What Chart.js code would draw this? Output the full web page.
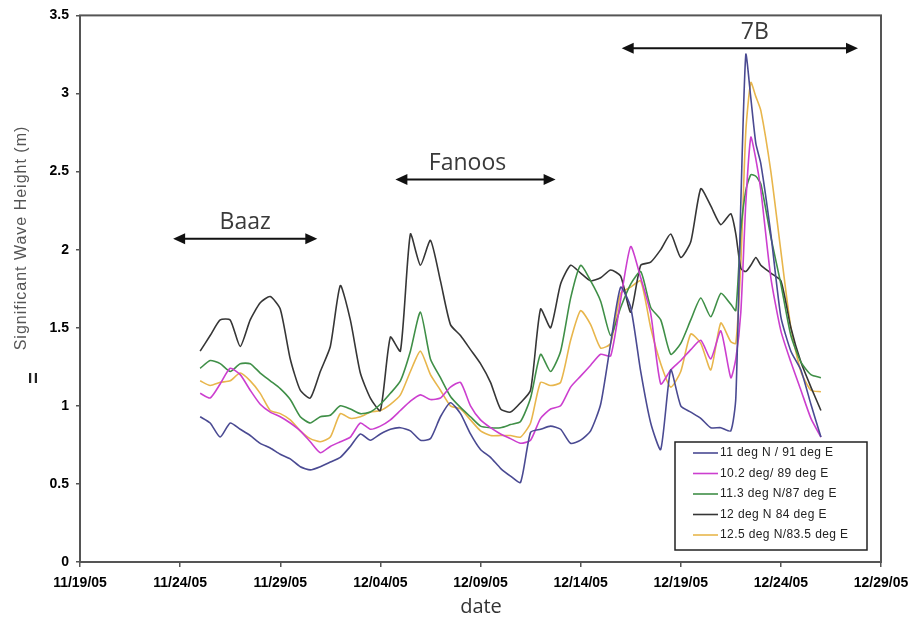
<!DOCTYPE html>
<html>
<head>
<meta charset="utf-8">
<script src="https://cdn.jsdelivr.net/npm/chart.js@4.4.0/dist/chart.umd.min.js"></script>
<style>
    body { margin: 0; background: #fff; }
    #wrap { width: 918px; height: 627px; }
</style>
</head>
<body>
<div id="wrap"><canvas id="waveChart" width="918" height="627"></canvas></div>
<script>
// days since 11/19/05
var dias = [6, 6.5, 7, 7.5, 8, 8.5, 9, 9.5, 10, 10.5, 11, 11.5, 12, 12.5, 13, 13.5, 14, 14.5, 15, 15.5,
    16, 16.5, 17, 17.5, 18, 18.5, 19, 19.5, 20, 20.5, 21, 21.5, 22, 22.5, 23, 23.5, 24, 24.5, 25, 25.5,
    26, 26.5, 27, 27.5, 28, 28.5, 29, 29.5, 30, 30.5, 31, 31.5, 32, 32.5, 32.75, 33, 33.25, 33.5, 33.75, 34,
    34.5, 35, 35.5, 36, 36.5, 37];

var serieAzul = [0.93, 0.89, 0.80, 0.89, 0.85, 0.81, 0.76, 0.73, 0.69, 0.66, 0.61, 0.59, 0.61, 0.64, 0.67, 0.74, 0.82, 0.78, 0.82, 0.85,
    0.86, 0.84, 0.78, 0.79, 0.93, 1.02, 0.95, 0.82, 0.72, 0.67, 0.60, 0.55, 0.51, 0.83, 0.85, 0.87, 0.85, 0.76, 0.78, 0.84,
    1.01, 1.40, 1.76, 1.63, 1.22, 0.89, 0.72, 1.23, 1.00, 0.96, 0.92, 0.86, 0.86, 0.84, 1.05, 2.30, 3.25, 2.97, 2.68, 2.55,
    2.10, 1.57, 1.35, 1.23, 1.01, 0.80];

var serieMagenta = [1.08, 1.05, 1.14, 1.24, 1.20, 1.10, 1.01, 0.96, 0.93, 0.89, 0.84, 0.77, 0.70, 0.74, 0.77, 0.80, 0.89, 0.85, 0.87, 0.91,
    0.97, 1.03, 1.07, 1.04, 1.05, 1.12, 1.15, 1.00, 0.91, 0.86, 0.82, 0.79, 0.76, 0.78, 0.92, 0.98, 1.00, 1.12, 1.19, 1.26,
    1.33, 1.32, 1.68, 2.02, 1.82, 1.59, 1.14, 1.23, 1.29, 1.36, 1.42, 1.30, 1.48, 1.18, 1.30, 1.60, 2.30, 2.72, 2.58, 2.38,
    1.82, 1.48, 1.28, 1.10, 0.92, 0.80];

var serieVerde = [1.24, 1.29, 1.27, 1.22, 1.27, 1.27, 1.21, 1.16, 1.11, 1.04, 0.93, 0.89, 0.93, 0.94, 1.00, 0.98, 0.95, 0.96, 1.01, 1.08,
    1.16, 1.35, 1.60, 1.30, 1.18, 1.06, 0.99, 0.93, 0.87, 0.86, 0.86, 0.88, 0.90, 1.05, 1.33, 1.22, 1.35, 1.69, 1.90, 1.80,
    1.67, 1.45, 1.63, 1.78, 1.86, 1.63, 1.55, 1.33, 1.40, 1.55, 1.69, 1.57, 1.72, 1.65, 1.61, 2.12, 2.38, 2.48, 2.47, 2.42,
    2.08, 1.78, 1.45, 1.28, 1.20, 1.18];

var serieNegra = [1.35, 1.45, 1.55, 1.55, 1.38, 1.55, 1.66, 1.70, 1.62, 1.30, 1.10, 1.05, 1.22, 1.38, 1.77, 1.55, 1.21, 1.05, 0.97, 1.44,
    1.35, 2.10, 1.90, 2.06, 1.80, 1.52, 1.45, 1.36, 1.27, 1.15, 0.98, 0.96, 1.02, 1.10, 1.62, 1.50, 1.78, 1.90, 1.85, 1.80,
    1.82, 1.87, 1.83, 1.60, 1.90, 1.92, 2.00, 2.10, 1.95, 2.05, 2.39, 2.28, 2.16, 2.23, 2.10, 1.88, 1.86, 1.90, 1.95, 1.90,
    1.85, 1.80, 1.50, 1.28, 1.12, 0.97];

var serieAmarilla = [1.16, 1.13, 1.15, 1.16, 1.21, 1.16, 1.08, 0.97, 0.95, 0.91, 0.84, 0.79, 0.77, 0.80, 0.95, 0.92, 0.93, 0.96, 0.97, 1.01,
    1.07, 1.22, 1.35, 1.20, 1.10, 1.00, 0.98, 0.91, 0.84, 0.81, 0.81, 0.81, 0.80, 0.89, 1.15, 1.13, 1.15, 1.42, 1.61, 1.52,
    1.37, 1.40, 1.72, 1.76, 1.80, 1.50, 1.27, 1.12, 1.22, 1.46, 1.40, 1.23, 1.53, 1.41, 1.40, 1.91, 2.76, 3.07, 2.98, 2.89,
    2.50, 1.99, 1.50, 1.22, 1.10, 1.09];

var nombresSeries = ['11 deg N / 91 deg E', '10.2 deg/ 89 deg E', '11.3 deg N/87 deg E', '12 deg N 84 deg E', '12.5 deg N/83.5 deg E'];
var coloresSeries = ['#4a4a92', '#cc3fcf', '#3f8f47', '#363636', '#e8b64c'];

var etiquetasFecha = ['11/19/05', '11/24/05', '11/29/05', '12/04/05', '12/09/05', '12/14/05', '12/19/05', '12/24/05', '12/29/05'];
var etiquetasY = ['0', '0.5', '1', '1.5', '2', '2.5', '3', '3.5'];

// arrows over the chart: label, start day, end day, height (m), label day
var tramosNombre = ['Baaz', 'Fanoos', '7B'];
var tramosInicio = [4.65, 15.75, 27.05];
var tramosFin = [11.85, 23.75, 38.85];
var tramosNivel = [2.07, 2.45, 3.29];
var tramosTexto = [8.25, 19.35, 33.7];

function puntos(serie) {
    return dias.map(function (d, i) { return { x: d, y: serie[i] }; });
}

function flecha(ctx, x, y, dir) {
    ctx.beginPath();
    ctx.moveTo(x, y);
    ctx.lineTo(x - dir * 12, y - 5.5);
    ctx.lineTo(x - dir * 12, y + 5.5);
    ctx.closePath();
    ctx.fill();
}

var decoracion = {
    id: 'decoracion',
    afterDatasetsDraw: function (chart) {
        var ctx = chart.ctx;
        var area = chart.chartArea;
        var xs = chart.scales.x;
        var ys = chart.scales.y;
        ctx.save();

        // plot frame
        ctx.strokeStyle = '#555';
        ctx.lineWidth = 2;
        ctx.strokeRect(area.left, area.top, area.right - area.left, area.bottom - area.top);

        // event arrows
        ctx.fillStyle = '#111';
        ctx.strokeStyle = '#111';
        ctx.lineWidth = 2;
        for (var i = 0; i < tramosNombre.length; i++) {
            var x1 = xs.getPixelForValue(tramosInicio[i]);
            var x2 = xs.getPixelForValue(tramosFin[i]);
            var y = ys.getPixelForValue(tramosNivel[i]);
            ctx.beginPath();
            ctx.moveTo(x1 + 6, y);
            ctx.lineTo(x2 - 6, y);
            ctx.stroke();
            flecha(ctx, x1, y, -1);
            flecha(ctx, x2, y, 1);
        }
        ctx.fillStyle = '#3a3a3a';
        ctx.font = '23px "Open Sans"';
        ctx.textAlign = 'center';
        ctx.textBaseline = 'middle';
        for (var j = 0; j < tramosNombre.length; j++) {
            ctx.fillText(tramosNombre[j], xs.getPixelForValue(tramosTexto[j]), ys.getPixelForValue(tramosNivel[j]) - 16);
        }

        // legend box
        ctx.fillStyle = '#fff';
        ctx.fillRect(675, 442, 192, 108);
        ctx.strokeStyle = '#222';
        ctx.lineWidth = 1.5;
        ctx.strokeRect(675, 442, 192, 108);
        ctx.font = '12px "Liberation Sans"';
        ctx.letterSpacing = '0.4px';
        ctx.textAlign = 'left';
        chart.data.datasets.forEach(function (ds, k) {
            var yy = 453 + k * 20.5;
            ctx.strokeStyle = ds.borderColor;
            ctx.lineWidth = 1.6;
            ctx.beginPath();
            ctx.moveTo(693, yy);
            ctx.lineTo(718, yy);
            ctx.stroke();
            ctx.fillStyle = '#222';
            ctx.fillText(ds.label, 720, yy);
        });

        // axis titles
        ctx.fillStyle = '#555';
        ctx.font = '16px "Liberation Sans"';
        ctx.letterSpacing = '1px';
        ctx.translate(22, 238);
        ctx.rotate(-Math.PI / 2);
        ctx.textAlign = 'center';
        ctx.fillText('Significant Wave Height (m)', 0, 0);
        ctx.setTransform(1, 0, 0, 1, 0, 0);
        ctx.letterSpacing = '0px';
        ctx.fillStyle = '#222';
        ctx.font = 'bold 20px "Liberation Sans"';
        ctx.translate(34, 378);
        ctx.rotate(-Math.PI / 2);
        ctx.fillText('=', 0, 0);
        ctx.setTransform(1, 0, 0, 1, 0, 0);

        ctx.fillStyle = '#333';
        ctx.font = '20px "Open Sans"';
        ctx.fillText('date', 481, 607);
        ctx.restore();
    }
};

function crearGrafica() {
    var ctx = document.getElementById('waveChart').getContext('2d');
    var series = [serieAzul, serieMagenta, serieVerde, serieNegra, serieAmarilla];

    var datasets = series.map(function (s, i) {
        return {
            label: nombresSeries[i],
            data: puntos(s),
            borderColor: coloresSeries[i],
            borderWidth: 1.6,
            pointRadius: 0,
            fill: false,
            tension: 0.2
        };
    });

    new Chart(ctx, {
        type: 'line',
        data: { datasets: datasets },
        options: {
            responsive: false,
            animation: false,
            layout: { padding: { top: 14, right: 37, left: 0, bottom: 0 } },
            plugins: {
                legend: { display: false },
                tooltip: { enabled: false }
            },
            scales: {
                x: {
                    type: 'linear',
                    min: 0,
                    max: 40,
                    afterFit: function (s) { s.height = 65; },
                    border: { display: false },
                    grid: { drawOnChartArea: false, tickLength: 5, color: '#555', lineWidth: 1.5 },
                    ticks: {
                        stepSize: 5,
                        autoSkip: false,
                        maxRotation: 0,
                        padding: 8,
                        color: '#000',
                        font: { family: 'Liberation Sans', size: 14, weight: 'bold' },
                        callback: function (v) { return etiquetasFecha[Math.round(v / 5)]; }
                    }
                },
                y: {
                    min: 0,
                    max: 3.5,
                    afterFit: function (s) { s.width = 80; },
                    border: { display: false },
                    grid: { drawOnChartArea: false, tickLength: 4, color: '#555', lineWidth: 1.5 },
                    ticks: {
                        stepSize: 0.5,
                        padding: 7,
                        color: '#000',
                        font: { family: 'Liberation Sans', size: 14, weight: 'bold' },
                        callback: function (v) { return etiquetasY[Math.round(v * 2)]; }
                    }
                }
            }
        },
        plugins: [decoracion]
    });
}

document.addEventListener('DOMContentLoaded', function () {
    crearGrafica();
});
</script>
</body>
</html>
